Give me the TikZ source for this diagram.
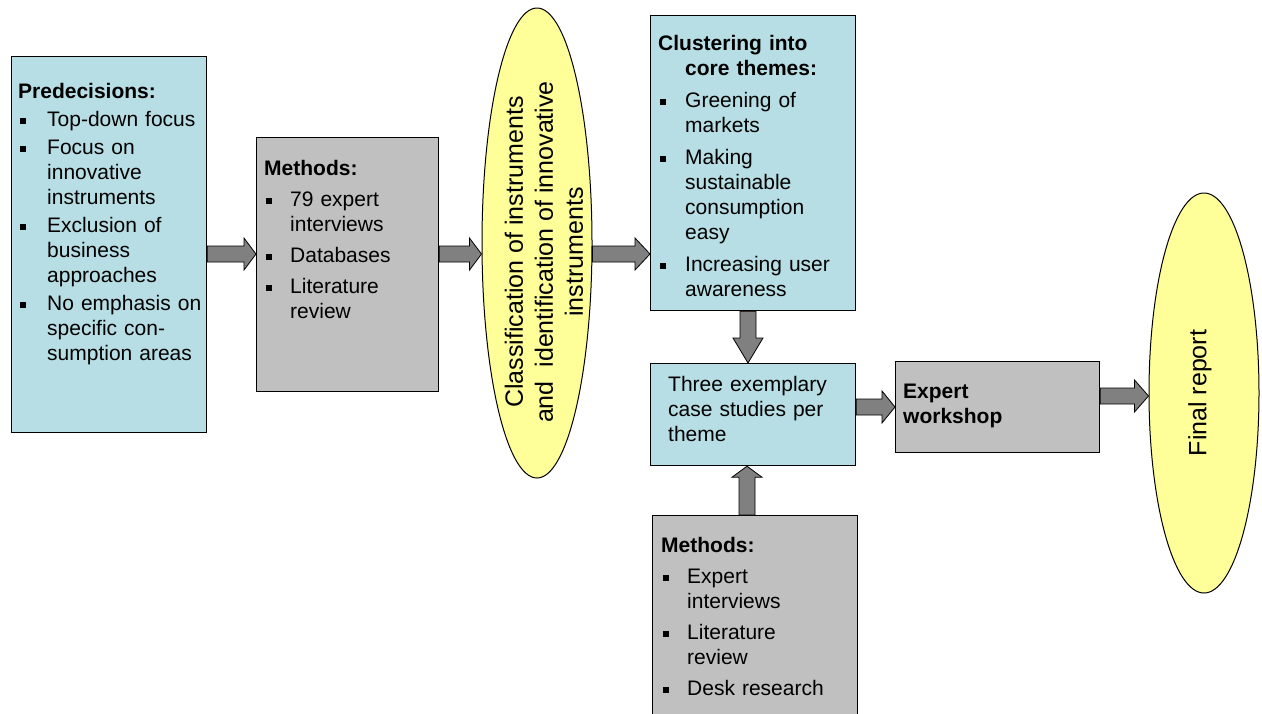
\documentclass[tikz,border=0pt]{standalone}
\usepackage{fontspec}
\setmainfont{Liberation Sans}
\usetikzlibrary{shapes.geometric,calc}

\definecolor{boxblue}{RGB}{183,222,228}
\definecolor{boxgray}{RGB}{192,192,192}
\definecolor{ovalyellow}{RGB}{255,255,153}
\definecolor{arrowgray}{RGB}{128,128,128}

% bullet list items with a small square and a hanging indent
\newlength{\bulletind}\setlength{\bulletind}{27pt}
\newlength{\itemgap}\setlength{\itemgap}{6pt}
\newcommand{\bitem}[1]{\par\vspace{\itemgap}\hangindent=\bulletind\hangafter=1\noindent
  \hbox to\bulletind{\hspace{2pt}\rule[2.5pt]{5.5pt}{5.5pt}\hfil}#1}
\newcommand{\nl}{\newline}

% block arrows: horizontal (from, to, head length) and vertical (from, to, signed head offset)
\newcommand{\hblock}[3]{%
  \path[blockarrow] ($(#1)+(0,-8)$) -- ($(#2)+(-#3,-8)$) -- ($(#2)+(-#3,-16)$) -- (#2)
    -- ($(#2)+(-#3,16)$) -- ($(#2)+(-#3,8)$) -- ($(#1)+(0,8)$) -- cycle;}
\newcommand{\vblock}[3]{%
  \path[blockarrow] ($(#1)+(-8,0)$) -- ($(#2)+(-8,#3)$) -- ($(#2)+(-15,#3)$) -- (#2)
    -- ($(#2)+(15,#3)$) -- ($(#2)+(8,#3)$) -- ($(#1)+(8,0)$) -- cycle;}

\begin{document}
\begin{tikzpicture}[x=1pt,y=-1pt,
  box/.style={draw=black, line width=1.2pt, inner sep=0pt, anchor=north west},
  bluebox/.style={box, fill=boxblue},
  graybox/.style={box, fill=boxgray},
  oval/.style={ellipse, draw=black, line width=1pt, fill=ovalyellow, inner sep=0pt},
  txt/.style={inner sep=0pt, anchor=north west, text width=200pt,
    font=\fontsize{21}{25}\selectfont},
  ovaltxt/.style={inner sep=0pt, rotate=90, align=center,
    font=\fontsize{25}{30}\selectfont},
  blockarrow/.style={draw=black, line width=0.8pt, fill=arrowgray, line join=miter}]

\useasboundingbox (0,0) rectangle (1262,713);
\clip (0,0) rectangle (1262,713);

% boxes and ovals
\node[bluebox, minimum width=195pt, minimum height=376pt] (pre) at (11,56) {};
\node[graybox, minimum width=182pt, minimum height=254pt] (m1) at (256,137) {};
\node[oval, minimum width=110pt, minimum height=470pt] (ell1) at (537,243) {};
\node[bluebox, minimum width=205pt, minimum height=295pt] (clus) at (650,15) {};
\node[bluebox, minimum width=205pt, minimum height=102pt] (three) at (650,363) {};
\node[graybox, minimum width=204pt, minimum height=91pt] (expert) at (895,361) {};
\node[oval, minimum width=110pt, minimum height=400pt] (ell2) at (1204,393) {};
\node[graybox, minimum width=205pt, minimum height=230pt] (m2) at (652,515) {};

% texts
\node[txt] (pre-t) at ($(pre.north west)+(7,27)$) {\setlength{\itemgap}{3pt}\setlength{\bulletind}{29pt}%
  \textbf{Predecisions:}
  \bitem{Top-down focus}
  \bitem{Focus on\nl innovative\nl instruments}
  \bitem{Exclusion of\nl business\nl approaches}
  \bitem{No emphasis on\nl specific con-\nl sumption areas}\par};

\node[txt] (m1-t) at ($(m1.north west)+(8,23)$) {\setlength{\itemgap}{6pt}\setlength{\bulletind}{26pt}%
  \textbf{Methods:}
  \bitem{79 expert\nl interviews}
  \bitem{Databases}
  \bitem{Literature\nl review}\par};

\node[ovaltxt] (ell1-t) at ($(ell1.center)+(7,9)$)
  {Classification of instruments\\and\ \ identification of innovative\\instruments};

\node[txt] (clus-t) at ($(clus.north west)+(8,20)$) {\setlength{\itemgap}{7pt}%
  \hangindent=27pt\hangafter=1\noindent\textbf{Clustering into\nl core themes:}
  \bitem{Greening of\nl markets}
  \bitem{Making\nl sustainable\nl consumption\nl easy}
  \bitem{Increasing user\nl awareness}\par};

\node[txt] (three-t) at ($(three.north west)+(18,13)$)
  {Three exemplary\nl case studies per\nl theme\par};

\node[txt] (expert-t) at ($(expert.north west)+(8,23)$)
  {\textbf{Expert\nl workshop}\par};

\node[ovaltxt] (ell2-t) at ($(ell2.center)+(-4,0)$) {Final report};

\node[txt] (m2-t) at ($(m2.north west)+(9,22)$) {\setlength{\itemgap}{6pt}\setlength{\bulletind}{26pt}%
  \textbf{Methods:}
  \bitem{Expert\nl interviews}
  \bitem{Literature\nl review}
  \bitem{Desk research}\par};

% connecting block arrows
\hblock{pre.east |- 0,254}{m1.west |- 0,254}{12}
\hblock{m1.east |- 0,254}{ell1.west |- 0,254}{12}
\hblock{ell1.east |- 0,254}{clus.west |- 0,254}{15}
\vblock{748,0 |- clus.south}{748,0 |- three.north}{-25}
\hblock{three.east |- 0,407}{expert.west |- 0,407}{13}
\vblock{747,0 |- m2.north}{747,0 |- three.south}{11}
\hblock{expert.east |- 0,396}{ell2.west |- 0,396}{14}

\end{tikzpicture}
\end{document}
